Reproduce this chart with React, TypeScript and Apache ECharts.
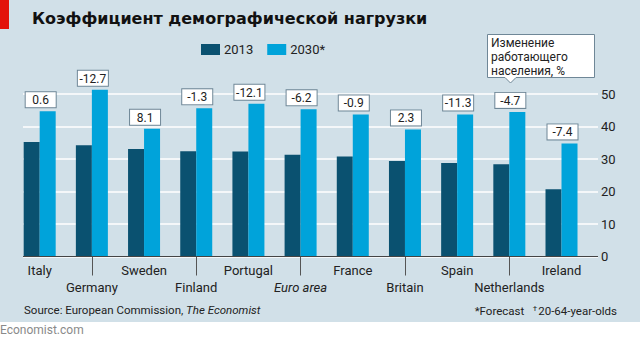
import React, { useEffect, useRef } from "react";
import * as echarts from "echarts";

const categories = ["Italy", "Germany", "Sweden", "Finland", "Portugal", "Euro area", "France", "Britain", "Spain", "Netherlands", "Ireland"];
const values2013 = [35.2, 34.2, 33.1, 32.4, 32.3, 31.3, 30.8, 29.4, 28.8, 28.4, 20.7];
const values2030 = [44.7, 51.3, 39.3, 45.6, 47.0, 45.3, 43.7, 39.1, 43.7, 44.5, 34.8];
const workforceChange = ["0.6", "-12.7", "8.1", "-1.3", "-12.1", "-6.2", "-0.9", "2.3", "-11.3", "-4.7", "-7.4"];
const yTicks = [0, 10, 20, 30, 40, 50];

const FONT = "Roboto, 'Open Sans', sans-serif";
const BG = "#d1e0e8";
const DARK = "#0a5170";
const LIGHT = "#00a3da";

export default function App() {
  const ref = useRef<HTMLDivElement>(null);
  useEffect(() => {
    if (!ref.current) return;
    const chart = echarts.init(ref.current, null, { renderer: "svg" });
    const top = 94;
    const bottom = 341 - 256.5;
    const option: any = {
      animation: false,
      backgroundColor: "#ffffff",
      textStyle: { fontFamily: FONT },
      legend: {
        left: 196,
        top: 38,
        itemWidth: 19,
        itemHeight: 11,
        itemGap: 14,
        icon: "rect",
        textStyle: { fontSize: 13, color: "#222", fontFamily: FONT, padding: [0, 0, 0, -1] },
        data: ["2013", "2030*"],
      },
      grid: [
        { left: 23, right: 42, top, bottom, containLabel: false },
        { left: 13.6, width: 574, top, bottom, containLabel: false },
      ],
      xAxis: [
        { type: "value", gridIndex: 0, show: false, min: 0, max: 1 },
        {
          type: "category",
          gridIndex: 1,
          data: categories,
          axisLine: { show: false },
          axisTick: {
            show: true,
            alignWithLabel: true,
            length: 19,
            interval: (i: number) => i % 2 === 1,
            lineStyle: { color: "#555", width: 1 },
          },
          axisLabel: {
            interval: 0,
            margin: 5,
            color: "#222",
            fontSize: 13,
            fontFamily: FONT,
            lineHeight: 17,
            formatter: (v: string, i: number) => {
              const t = v === "Euro area" ? "{i|" + v + "}" : "{n|" + v + "}";
              return i % 2 === 1 ? "\n" + t : t;
            },
            rich: {
              n: { fontSize: 13, color: "#222", fontFamily: FONT, lineHeight: 17 },
              i: { fontSize: 13, color: "#222", fontFamily: FONT, fontStyle: "italic", lineHeight: 17 },
            },
          },
        },
      ],
      yAxis: [
        {
          type: "value",
          gridIndex: 0,
          position: "right",
          min: 0,
          max: 50,
          interval: 10,
          axisLine: { show: false },
          axisTick: { show: false },
          splitLine: { show: true, lineStyle: { color: "#ffffff", width: 1.5 } },
          axisLabel: {
            margin: 3,
            color: "#222",
            fontSize: 13,
            fontFamily: FONT,
            formatter: (v: number) => (yTicks.includes(v) ? String(v) : ""),
          },
        },
        { type: "value", gridIndex: 1, min: 0, max: 50, show: false },
      ],
      series: [
        {
          type: "line",
          xAxisIndex: 0,
          yAxisIndex: 0,
          data: [[0, 0], [1, 0]],
          symbol: "none",
          silent: true,
          lineStyle: { color: "#444", width: 1 },
          z: 5,
        },
        {
          name: "2013",
          type: "bar",
          xAxisIndex: 1,
          yAxisIndex: 1,
          data: values2013,
          barWidth: 16,
          barGap: "0%",
          clip: false,
          itemStyle: { color: DARK },
          z: 3,
        },
        {
          name: "2030*",
          type: "bar",
          xAxisIndex: 1,
          yAxisIndex: 1,
          data: values2030,
          barWidth: 16,
          barGap: "0%",
          clip: false,
          itemStyle: { color: LIGHT },
          z: 3,
          label: {
            show: true,
            position: "top",
            distance: 4,
            offset: [-7, 0],
            formatter: (p: any) => workforceChange[p.dataIndex],
            backgroundColor: "#ffffff",
            borderColor: "#6f8797",
            borderWidth: 1,
            width: 28,
            align: "center",
            padding: [2, 1, 1, 1],
            color: "#222",
            fontSize: 12,
            fontFamily: FONT,
          },
        },
      ],
      graphic: [
        { type: "rect", z: -10, shape: { x: 0, y: 0, width: 640, height: 322 }, style: { fill: BG } },
        { type: "rect", z: 10, shape: { x: 0, y: 0, width: 9, height: 29 }, style: { fill: "#e3120b" } },
        {
          type: "text",
          left: 32,
          top: 10,
          style: { text: "Коэффициент демографической нагрузки", fill: "#111", font: "bold 16px 'DejaVu Sans', sans-serif" },
        },
        {
          type: "polygon",
          z: 10,
          shape: {
            points: [[487.5, 34.5], [594.5, 34.5], [594.5, 77.5], [516, 77.5], [510.5, 83], [505, 77.5], [487.5, 77.5]],
          },
          style: { fill: "#ffffff", stroke: "#6f8797", lineWidth: 1 },
        },
        {
          type: "text",
          z: 11,
          left: 491,
          top: 36,
          style: {
            text: "Изменение\nработающего\nнаселения, %",
            fill: "#222",
            font: "12px " + FONT,
            lineHeight: 14,
          },
        },
        {
          type: "text",
          left: 24,
          top: 304,
          style: {
            text: "{n|Source: European Commission, }{i|The Economist}",
            rich: {
              n: { fontSize: 11.5, fill: "#222", fontFamily: FONT },
              i: { fontSize: 11.5, fill: "#222", fontFamily: FONT, fontStyle: "italic" },
            },
          },
        },
        {
          type: "text",
          right: 23,
          top: 304,
          style: {
            text: "{n|*Forecast   }{s|†}{n|20-64-year-olds}",
            rich: {
              n: { fontSize: 11.5, fill: "#222", fontFamily: FONT },
              s: { fontSize: 8, fill: "#222", fontFamily: FONT, verticalAlign: "top", padding: [0, 1, 5, 0] },
            },
          },
        },
        {
          type: "text",
          left: 0,
          top: 324,
          style: { text: "Economist.com", fill: "#8a8a8a", font: "12px " + FONT },
        },
      ],
    };
    chart.setOption(option);
    return () => chart.dispose();
  }, []);
  return (
    <div
      ref={ref}
      style={{ position: "fixed", left: 0, top: 0, width: 640, height: 341 }}
    />
  );
}
